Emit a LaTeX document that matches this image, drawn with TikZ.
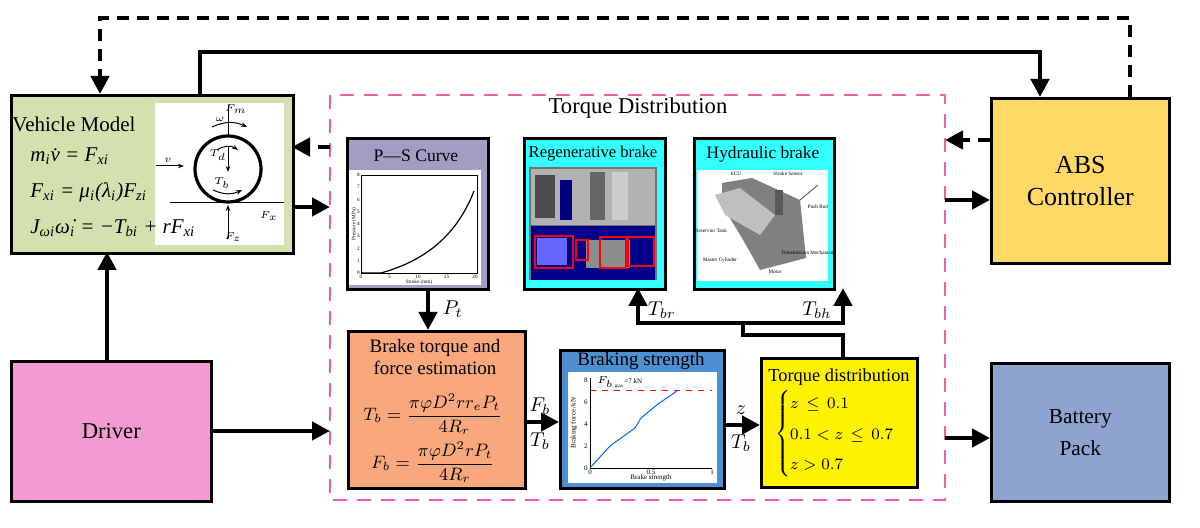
\documentclass[tikz,border=0pt]{standalone}
\usepackage{amsmath}
\usepackage{fontspec}
\setmainfont{Liberation Serif}
\usetikzlibrary{arrows.meta}
\definecolor{vgreen}{HTML}{D3E1AE}
\definecolor{dpink}{HTML}{F39AD2}
\definecolor{bpink}{HTML}{EE5FA6}
\definecolor{pspurp}{HTML}{A19DC3}
\definecolor{cyanb}{HTML}{33FFFF}
\definecolor{orng}{HTML}{F9A87E}
\definecolor{bstr}{HTML}{4E8FD2}
\definecolor{absy}{HTML}{FFD966}
\definecolor{batt}{HTML}{8EA3CF}
\newcommand{\sbs}[1]{\textsubscript{#1}}
\begin{document}
\begin{tikzpicture}[x=0.5pt,y=-0.5pt,
  box/.style={draw=black,line width=1.3pt},
  conn/.style={line width=2.2pt,-{Triangle[length=9pt,width=9pt]}},
  line/.style={line width=2.2pt},
  dconn/.style={line width=2.2pt,dash pattern=on 6pt off 4pt,-{Triangle[length=9pt,width=9pt]}},
  title/.style={font=\fontsize{9.5}{11}\selectfont},
  lab/.style={font=\fontsize{10}{12}\selectfont},
  tiny/.style={font=\fontsize{2.6}{3}\selectfont,inner sep=0.5pt}]
\useasboundingbox (0,0) rectangle (1200,528);
% boxes
\node[box,fill=vgreen,minimum width=141pt,minimum height=79pt,anchor=north west] (veh) at (10,94) {};
\node[box,fill=dpink,minimum width=100pt,minimum height=70pt,anchor=north west] (drv) at (10,360) {};
\node[font=\fontsize{11.3}{13}\selectfont] at (drv.center) {Driver};
\draw[bpink,line width=1.3pt,dash pattern=on 7pt off 5pt] (330,95) rectangle (945,500);
\node[font=\fontsize{11.3}{13}\selectfont] (tdt) at (638,108) {Torque Distribution};
\node[box,fill=pspurp,minimum width=70.5pt,minimum height=75.5pt,anchor=north west] (ps) at (346,137) {};
\node[box,fill=cyanb,minimum width=70.5pt,minimum height=75.5pt,anchor=north west] (reg) at (523,137) {};
\node[box,fill=cyanb,minimum width=70pt,minimum height=75.5pt,anchor=north west] (hyd) at (693,137) {};
\node[box,fill=orng,minimum width=88.5pt,minimum height=78.5pt,anchor=north west] (bte) at (347,330) {};
\node[box,fill=bstr,minimum width=82pt,minimum height=69pt,anchor=north west] (bs) at (559,349) {};
\node[box,fill=yellow,minimum width=78pt,minimum height=64.5pt,anchor=north west] (tdb) at (760,357) {};
\node[box,fill=absy,minimum width=89pt,minimum height=82.5pt,anchor=north west] (abs) at (990,97) {};
\node[box,fill=batt,minimum width=89pt,minimum height=69pt,anchor=north west] (bat) at (990,362) {};
\node[font=\fontsize{13}{16}\selectfont,align=center] at (abs.center) {ABS\\Controller};
\node[font=\fontsize{10.7}{16}\selectfont,align=center] at (bat.center) {Battery\\Pack};
% vehicle model content
\fill[white] (155,103) rectangle (284,245);
\node[font=\fontsize{10.5}{12}\selectfont,anchor=west,inner sep=0pt] (vt) at (12,124) {Vehicle Model};
\node[font=\fontsize{10.5}{18}\selectfont\itshape,anchor=west,align=left,inner sep=0pt] (veq) at (30,192) {m\sbs{i}v̇ = F\sbs{xi}\\F\sbs{xi} = μ\sbs{i}(λ\sbs{i})F\sbs{zi}\\J\sbs{ωi}ω̇\sbs{i} = −T\sbs{bi} + rF\sbs{xi}};
\draw[line width=1.6pt] (228,169) circle (33);
\draw[line width=0.4pt] (170,202) -- (284,202);
\draw[line width=0.4pt] (228,105) -- (228,137);
\draw[-{Stealth[length=3pt]},line width=0.5pt] (228,147) -- (228,172);
\draw[-{Stealth[length=3pt]},line width=0.5pt] (228,238) -- (228,205);
\draw[-{Stealth[length=3pt]},line width=0.5pt] (156,166) -- (184,166);
\draw[-{Stealth[length=3pt]},line width=0.5pt] (212,127) to[bend left=25] (247,127);
\draw[-{Stealth[length=3pt]},line width=0.5pt] (217,150) to[bend left=35] (238,150);
\draw[-{Stealth[length=3pt]},line width=0.5pt] (213,190) to[bend right=25] (242,190);
\node[font=\fontsize{4}{5}\selectfont] at (236,109) {$F_m$};
\node[font=\fontsize{4}{5}\selectfont] at (220,119) {$\omega$};
\node[font=\fontsize{4}{5}\selectfont] at (218,155) {$T_d$};
\node[font=\fontsize{4}{5}\selectfont] at (222,183) {$T_b$};
\node[font=\fontsize{4}{5}\selectfont] at (168,160) {$v$};
\node[font=\fontsize{4}{5}\selectfont] at (269,216) {$F_x$};
\node[font=\fontsize{4}{5}\selectfont] at (233,237) {$F_z$};
% PS curve
\node[font=\fontsize{8.8}{10}\selectfont] at (416,156) {P—S Curve};
\fill[white] (349,170) rectangle (481,285);
\draw[line width=0.3pt] (361,175) rectangle (477,273);
\draw[line width=0.6pt] (361,273) -- (381,273) .. controls (420,262) and (455,240) .. (474,191);
\foreach \i/\t in {0/0,1/5,2/10,3/15,4/20} \node[tiny] at (361+\i*28.5,277) {\t};
\foreach \i in {0,...,8} \node[tiny,anchor=east] at (361,273-\i*12.25) {\i};
\node[tiny] at (419,282) {Stroke (mm)};
\node[tiny,rotate=90] at (354,224) {Pressure (MPa)};
% Regen image
\fill[black!55] (529,167) rectangle (657,280);
\fill[black!30] (531,169) rectangle (655,225);
\fill[black!70] (535,175) rectangle (555,218);
\fill[blue!50!black] (560,180) rectangle (572,220);
\fill[black!60] (590,172) rectangle (605,220);
\fill[black!20] (612,172) rectangle (628,220);
\fill[blue!55!black] (531,226) rectangle (655,280);
\fill[blue!60] (537,238) rectangle (567,265);
\fill[black!45] (586,240) rectangle (630,268);
\draw[red,line width=0.6pt] (535,236) rectangle (573,268) (576,240) rectangle (588,260) (600,237) rectangle (626,268) (628,237) rectangle (654,266);
% Hydraulic image
\fill[white] (697,170) rectangle (828,281);
\fill[black!50] (722,183) -- (752,178) -- (800,200) -- (806,258) -- (760,270) -- (742,238) -- (722,205) -- cycle;
\fill[black!25] (715,195) -- (740,188) -- (775,215) -- (760,235) -- (725,215) -- cycle;
\fill[black!65] (775,190) rectangle (783,215);
\draw[line width=0.5pt,black!60] (800,200) -- (818,185);
\node[tiny] at (736,174) {ECU};
\node[tiny] at (788,174) {Stroke Sensor};
\node[tiny] at (818,207) {Push Rod};
\node[tiny] at (711,231) {Reservior Tank};
\node[tiny] at (720,260) {Master Cylinder};
\node[tiny] at (808,253) {Transmission Mechanism};
\node[tiny] at (775,272) {Motor};
\node[font=\fontsize{8.3}{10}\selectfont] at (593,154) {Regenerative brake};
\node[font=\fontsize{8.7}{10}\selectfont] at (763,154) {Hydraulic brake};
% brake torque estimation
\node[title,align=center] at (435,357) {Brake torque and\\force estimation};
\node[font=\fontsize{9}{11}\selectfont] at (433,414) {$T_b=\dfrac{\pi\varphi D^2rr_eP_t}{4R_r}$};
\node[font=\fontsize{9}{11}\selectfont] at (433,462) {$F_b=\dfrac{\pi\varphi D^2rP_t}{4R_r}$};
% braking strength
\node[title] at (641,361) {Braking strength};
\fill[white] (568,372) rectangle (717,483);
\draw[line width=0.3pt] (590,378) -- (590,468) -- (712,468);
\foreach \i/\t in {0/0,1/0.5,2/1} \node[tiny,font=\fontsize{3.5}{4}\selectfont] at (590+\i*61,472) {\t};
\foreach \i in {0,2,4,6,8} \node[tiny,font=\fontsize{3.5}{4}\selectfont,anchor=east] at (589,468-\i*11) {\i};
\draw[red,dashed,line width=0.5pt] (590,391) -- (712,391);
\draw[blue!60!cyan,line width=0.5pt] (590,468) -- (610,446) -- (635,428) -- (641,418) -- (658,404) -- (677,391);
\node[tiny,font=\fontsize{3.5}{4}\selectfont,anchor=west] at (596,382) {$F_{b\max}$=7 kN};
\node[tiny,font=\fontsize{3.5}{4}\selectfont] at (651,478) {Brake strength};
\node[tiny,font=\fontsize{3.5}{4}\selectfont,rotate=90] at (574,423) {Braking force /kN};
% torque distribution box
\node[font=\fontsize{9.2}{11}\selectfont] at (839,377) {Torque distribution};
\node[font=\fontsize{8.5}{11}\selectfont,anchor=west] at (768,434) {$\begin{cases} z\,\le\,0.1\\[2pt] 0.1<z\,\le\,0.7\\[2pt] z>0.7\end{cases}$};
% connectors
\coordinate (dtop) at (1130,18);
\coordinate (dtl) at (100,18);
\draw[dconn] (1130,97) -- (dtop) -- (dtl) -- (100,94);
\coordinate (st1) at (200,52);
\coordinate (st2) at (1040,52);
\draw[conn] (200,94) -- (st1) -- (st2) -- (1040,97);
\draw[dconn] (990,140) -- (945,140);
\draw[dconn] (330,147) -- (292,147);
\draw[conn] (292,207) -- (330,207);
\draw[conn] (945,200) -- (990,200);
\draw[conn] (107,360) -- (107,252);
\draw[conn] (210,431) -- (330,431);
\draw[conn] (428,288) -- (428,330) node[lab,midway,right=3pt] {$P_t$};
\draw[conn] (524,422) -- (559,422);
\node[lab] at (540,406) {$F_b$};
\node[lab] at (540,441) {$T_b$};
\draw[conn] (723,425) -- (760,425);
\node[lab] at (741,410) {$z$};
\node[lab] at (741,443) {$T_b$};
\draw[conn] (945,438) -- (990,438);
\coordinate (j1) at (843,335);
\coordinate (j2) at (743,335);
\coordinate (j3) at (743,323);
\draw[line] (843,357) -- (j1) -- (j2) -- (j3);
\draw[conn] (j3) -- (638,323) -- (638,288);
\draw[conn] (j3) -- (843,323) -- (843,288);
\node[lab] at (662,310) {$T_{br}$};
\node[lab] at (817,310) {$T_{bh}$};
\end{tikzpicture}
\end{document}
